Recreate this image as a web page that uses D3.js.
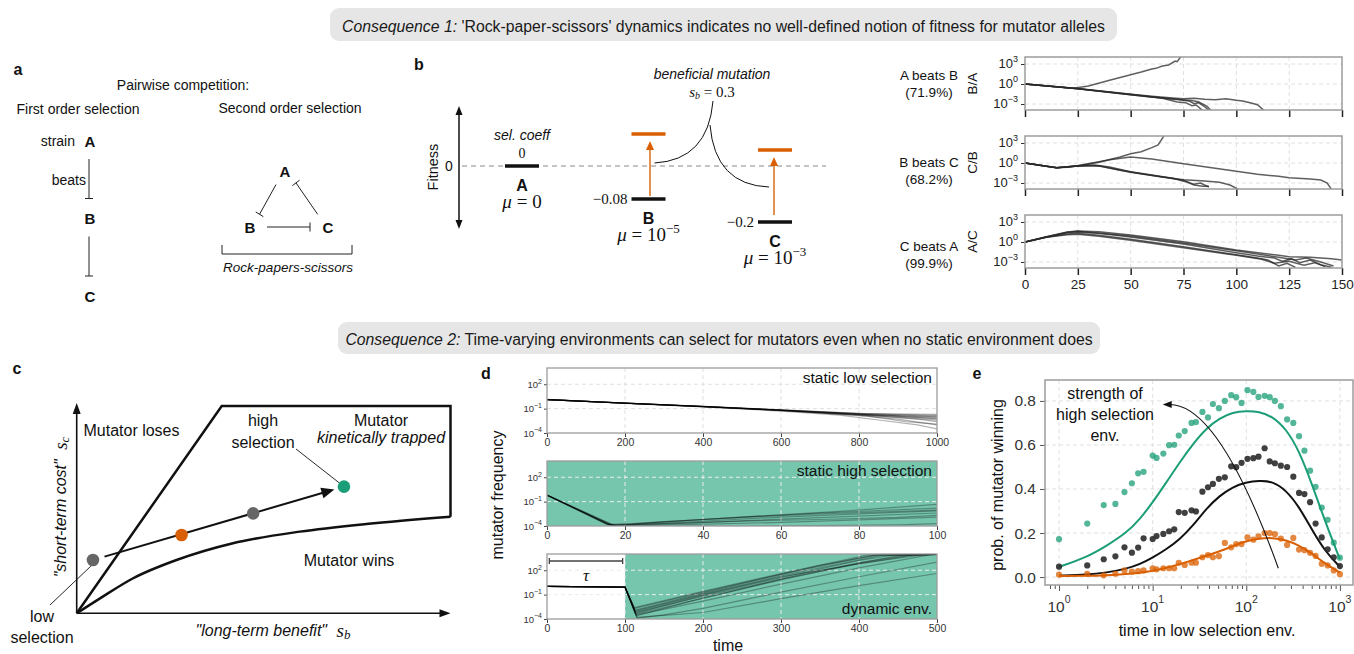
<!DOCTYPE html>
<html>
<head>
<meta charset="utf-8">
<script src="https://cdn.jsdelivr.net/npm/d3@7"></script>
<style>
  body { margin: 0; background: #fff; }
  svg { display: block; }
</style>
</head>
<body>
<svg></svg>
<script>
const width = 1354;
const height = 654;
const sans = '"Liberation Sans", Arial, sans-serif';
const serif = '"Liberation Serif", "DejaVu Serif", serif';
const teal = '#1b9e77';
const orange = '#d95f02';
const frameGrey = '#9c9c9c';
const gridGrey = '#e0e0e0';

// ---------------- data ----------------
const header1 = ['Consequence 1:', " 'Rock-paper-scissors' dynamics indicates no well-defined notion of fitness for mutator alleles"];
const header2 = ['Consequence 2:', ' Time-varying environments can select for mutators even when no static environment does'];

// panel a
const chain = ['A', 'B', 'C'];
const rpsEdges = [['A', 'B'], ['B', 'C'], ['C', 'A']];

// panel b
const strains = ['A', 'B', 'C'];
const selCoeff = [0, -0.08, -0.2];
const mutRateExp = [null, -5, -3];
const sBenefit = 0.3;

// panel b, right: pairwise competitions (generation, log10 ratio)
const duelNames = ['A beats B', 'B beats C', 'C beats A'];
const duelShare = ['(71.9%)', '(68.2%)', '(99.9%)'];
const duelRatio = ['B/A', 'C/B', 'A/C'];
const ratioTicks = [1e3, 1, 1e-3];
const genTicks = [0, 25, 50, 75, 100, 125, 150];
const runsBA = [
  [[0,0],[25,-0.7],[50,-1.6],[60,-1.95],[70,-2.2],[75,-2.45],[78,-2.6],[80,-2.95],[82,-2.8],[85,-3.4],[87,-3.95]],
  [[0,0],[25,-0.72],[50,-1.62],[65,-2.15],[72,-2.7],[76,-2.8],[79,-3.25],[81,-3.15],[84,-3.95]],
  [[0,0],[25,-0.68],[50,-1.55],[62,-2.0],[70,-2.3],[78,-2.45],[82,-2.65],[86,-3.3],[88,-3.95]],
  [[0,0],[23,-0.65],[30,-0.3],[40,0.55],[50,1.4],[55,1.8],[60,2.25],[62,2.35],[65,2.7],[68,2.85],[71,3.45],[72,3.35],[74,4.2]],
  [[0,0],[25,-0.7],[50,-1.55],[60,-1.85],[70,-2.1],[75,-2.2],[80,-2.15],[85,-2.3],[90,-2.35],[95,-2.2],[100,-2.45],[103,-2.55],[107,-2.85],[110,-3.1],[113,-3.95]]
];
const runsCB = [
  [[0,0],[8,-0.4],[15,-0.7],[20,-0.65],[25,-0.45],[30,-0.35],[35,-0.45],[45,-1.1],[55,-1.6],[65,-2.1],[75,-2.6],[80,-3.2],[83,-3.0],[87,-3.6]],
  [[0,0],[15,-0.7],[25,-0.45],[33,-0.3],[40,-0.6],[50,-1.3],[60,-1.8],[70,-2.3],[76,-2.8],[80,-3.3],[84,-3.5],[87,-3.5]],
  [[0,0],[15,-0.7],[25,-0.45],[35,-0.4],[50,-1.4],[65,-2.1],[75,-2.5],[85,-2.7],[92,-2.9],[97,-3.3],[101,-3.95]],
  [[0,0],[15,-0.7],[25,-0.4],[35,0.1],[45,0.9],[50,1.4],[55,1.7],[60,2.3],[63,2.7],[66,4.2]],
  [[0,0],[15,-0.7],[25,-0.4],[40,0.5],[50,0.9],[60,0.6],[75,-0.1],[90,-0.8],[100,-1.25],[110,-1.7],[120,-2.0],[125,-2.2],[135,-2.4],[140,-2.55],[143,-3.0],[145,-3.95]]
];
const runsAC = [
  [[0,0],[10,0.8],[20,1.5],[25,1.65],[35,1.55],[50,1.05],[75,0.05],[100,-1.2],[120,-2.0],[125,-2.2],[135,-2.3],[145,-2.5],[150,-2.7]],
  [[0,0],[10,0.75],[20,1.4],[25,1.5],[35,1.3],[50,0.75],[75,-0.3],[100,-1.6],[110,-2.1],[118,-2.4],[122,-2.9],[126,-2.5],[130,-3.1],[135,-2.7],[140,-3.4],[145,-3.8]],
  [[0,0],[10,0.7],[20,1.2],[25,1.3],[35,1.0],[50,0.4],[75,-0.7],[100,-1.9],[110,-2.4],[115,-2.7],[120,-3.6],[124,-3.2],[128,-3.8]],
  [[0,0],[10,0.7],[20,1.1],[25,1.15],[35,0.85],[50,0.25],[75,-0.85],[100,-2.0],[112,-2.6],[118,-3.2],[125,-2.9],[132,-3.5],[137,-3.1],[142,-3.7]],
  [[0,0],[20,1.45],[25,1.6],[50,0.9],[75,-0.15],[100,-1.3],[120,-2.3],[128,-2.7],[133,-2.4],[140,-3.0],[146,-3.6]]
];

// panel c (schematic, units of the axes)
const boundaryLow = [[0,0],[0.0625,0.072],[0.151,0.169],[0.267,0.257],[0.418,0.338],[0.597,0.394],[0.775,0.431],[1,0.466]];
const boundaryHigh = [[0,0],[0.388,1],[1,1],[1,0.466]];
const envKind = ['low', 'weak', 'medium', 'high'];
const envSb = [0.0435, 0.2805, 0.472, 0.715];
const envSc = [0.257, 0.378, 0.482, 0.611];

// panel d (time, log10 mutator frequency)
const freqTicks = [1e2, 1e-1, 1e-4];
const tau = 100;
const runsLow = [
  [[0,0.12],[200,-0.33],[400,-0.74],[600,-1.18],[700,-1.42],[800,-1.66],[900,-1.88],[1000,-2.08]],
  [[0,0.12],[200,-0.32],[400,-0.73],[600,-1.15],[800,-1.58],[900,-1.77],[1000,-1.93]],
  [[0,0.13],[200,-0.34],[400,-0.76],[600,-1.24],[800,-1.78],[900,-2.08],[1000,-2.42]],
  [[0,0.12],[200,-0.33],[400,-0.75],[600,-1.2],[800,-1.74],[950,-2.3],[1000,-2.6]],
  [[0,0.12],[200,-0.34],[400,-0.76],[600,-1.22],[800,-1.85],[900,-2.3],[1000,-3.0]],
  [[0,0.12],[200,-0.32],[400,-0.72],[600,-1.16],[800,-1.6],[1000,-1.72]],
  [[0,0.13],[200,-0.35],[400,-0.78],[600,-1.3],[750,-1.8],[850,-2.4],[950,-3.0],[1000,-3.5]],
  [[0,0.12],[200,-0.33],[400,-0.74],[600,-1.2],[800,-1.7],[1000,-2.2]],
  [[0,0.12],[200,-0.34],[400,-0.75],[600,-1.22],[820,-1.9],[920,-2.6],[1000,-2.9]],
  [[0,0.12],[200,-0.32],[400,-0.73],[600,-1.17],[800,-1.62],[1000,-1.84]],
  [[0,0.12],[200,-0.33],[400,-0.74],[600,-1.19],[800,-1.68],[900,-1.95],[1000,-2.25]],
  [[0,0.12],[200,-0.33],[400,-0.75],[600,-1.21],[800,-1.72],[1000,-2.0]]
];
const runsHigh = [
  [[0,-0.2],[15,-3.7],[18,-3.95],[30,-3.5],[50,-2.9],[70,-2.4],[100,-1.8]],
  [[0,-0.2],[16,-3.85],[20,-3.9],[40,-3.4],[60,-2.9],[80,-2.5],[100,-2.15]],
  [[0,-0.21],[17,-4.0],[25,-3.85],[45,-3.45],[65,-3.05],[100,-2.4]],
  [[0,-0.19],[15.5,-3.8],[22,-3.75],[40,-3.2],[55,-2.75],[75,-2.2],[100,-1.35]],
  [[0,-0.2],[17.5,-4.05],[30,-3.9],[60,-3.55],[80,-3.25],[100,-2.9]],
  [[0,-0.21],[16.5,-3.9],[35,-3.65],[50,-3.4],[70,-3.2],[90,-2.95],[100,-2.7]],
  [[0,-0.2],[18,-4.1],[40,-4.05],[70,-3.95],[90,-3.85],[100,-3.7]],
  [[0,-0.2],[16,-3.9],[30,-3.45],[50,-2.95],[70,-2.5],[100,-2.05]]
];
const runsDyn = [
  [[0,0.02],[100,-0.08],[112,-2.6],[200,-0.6],[300,1.6],[410,3.85],[500,3.95]],
  [[0,0.02],[100,-0.08],[113,-3.0],[200,-0.9],[300,1.3],[430,3.85],[500,3.95]],
  [[0,0.02],[100,-0.08],[114,-3.3],[200,-1.1],[300,1.1],[400,3.2],[445,3.9],[500,3.95]],
  [[0,0.02],[100,-0.08],[113,-2.9],[200,-0.8],[300,1.5],[420,3.9],[500,3.95]],
  [[0,0.02],[100,-0.08],[115,-3.6],[200,-1.4],[300,0.8],[400,2.9],[465,3.9],[500,3.95]],
  [[0,0.02],[100,-0.08],[112,-2.7],[200,-0.7],[350,2.6],[425,3.9],[500,3.95]],
  [[0,0.02],[100,-0.08],[114,-3.4],[220,-1.0],[330,1.6],[455,3.9],[500,3.95]],
  [[0,0.02],[100,-0.08],[113,-3.1],[200,-1.0],[300,1.2],[470,3.9],[500,3.95]],
  [[0,0.02],[100,-0.08],[116,-3.9],[150,-3.5],[200,-2.7],[300,-0.7],[400,1.2],[500,3.0]],
  [[0,0.02],[100,-0.08],[115,-3.8],[200,-3.2],[300,-1.5],[400,0.1],[500,1.6]],
  [[0,0.02],[100,-0.08],[114,-3.5],[200,-1.8],[300,0.3],[400,2.3],[490,3.9],[500,3.95]],
  [[0,0.02],[100,-0.08],[113,-3.2],[200,-1.2],[300,0.9],[400,2.8],[480,3.9],[500,3.95]]
];

// panel e
const tLow = [1,2,3,4,5,6,7,8,10,11,13,15,17,19,22,26,29,34,39,44,51,59,69,78,89,103,119,135,157,178,202,234,273,318,366,418,480,550,640,740,860,1000];
const winHigh = [.172,.243,.327,.332,.386,.426,.471,.478,.552,.541,.561,.599,.601,.643,.663,.700,.704,.750,.725,.786,.767,.800,.826,.817,.791,.849,.841,.818,.823,.817,.800,.776,.716,.700,.640,.574,.483,.410,.316,.260,.156,.088];
const winMid = [.047,.053,.081,.094,.135,.111,.134,.176,.173,.186,.196,.208,.217,.295,.292,.303,.298,.388,.408,.423,.446,.453,.503,.499,.519,.537,.540,.547,.585,.525,.517,.506,.500,.456,.382,.377,.340,.243,.180,.126,.090,.050];
const winLow = [.011,.015,.008,.015,.030,.025,.027,.030,.040,.035,.040,.040,.040,.065,.055,.065,.065,.090,.100,.090,.095,.155,.135,.150,.150,.180,.170,.185,.200,.200,.195,.175,.146,.178,.125,.122,.110,.096,.060,.053,.030,.013];
const tTheory = [1,2,3.2,5.3,7.3,10,14,19.5,27,37,52,72,99,137,190,265,366,510,700,1000];
const theoryHigh = [.046,.091,.141,.202,.263,.339,.43,.522,.605,.674,.722,.748,.755,.752,.73,.674,.575,.415,.248,.081];
const theoryMid = [.007,.010,.02,.038,.058,.088,.126,.172,.233,.309,.37,.41,.43,.438,.435,.395,.32,.21,.115,.047];
const theoryLow = [.005,.005,.008,.014,.02,.027,.043,.058,.078,.096,.117,.141,.163,.175,.179,.168,.145,.105,.06,.02];
const probTicks = [0, 0.2, 0.4, 0.6, 0.8];

// ---------------- helpers ----------------
const svg = d3.select('svg')
  .attr('width', width)
  .attr('height', height)
  .style('font-family', sans);

function addText(g, x, y, s, size, o = {}) {
  return g.append('text')
    .attr('x', x).attr('y', y)
    .attr('font-size', size)
    .attr('font-family', o.family || sans)
    .attr('font-style', o.italic ? 'italic' : null)
    .attr('font-weight', o.bold ? 'bold' : null)
    .attr('text-anchor', o.anchor || 'middle')
    .attr('dominant-baseline', o.baseline || 'central')
    .attr('fill', o.fill || '#111')
    .attr('transform', o.rotate ? `rotate(${o.rotate},${x},${y})` : null)
    .text(s);
}

function supTen(sel, exp, base, sup) {
  sel.text(null);
  sel.append('tspan').attr('font-size', base).text('10');
  sel.append('tspan').attr('font-size', sup).attr('dy', -base * 0.45)
    .text(exp < 0 ? '\u2212' + Math.abs(exp) : String(exp));
}

function arrowHead(g, tipX, tipY, angle, len, wid, color) {
  // angle: direction the arrow points (radians)
  const bx = tipX - len * Math.cos(angle), by = tipY - len * Math.sin(angle);
  const px = -Math.sin(angle) * wid / 2, py = Math.cos(angle) * wid / 2;
  g.append('path')
    .attr('d', `M${tipX},${tipY}L${bx + px},${by + py}L${bx - px},${by - py}Z`)
    .attr('fill', color);
}

let clipId = 0;
function clipRect(x, y, w, h) {
  const id = 'clip' + (clipId++);
  svg.append('clipPath').attr('id', id)
    .append('rect').attr('x', x).attr('y', y).attr('width', w).attr('height', h);
  return `url(#${id})`;
}

// ---------------- headers ----------------
[[header1, 330, 1117, 8, 41], [header2, 338, 1100, 322, 354]].forEach(([h, x0, x1, y0, y1]) => {
  svg.append('rect')
    .attr('x', x0).attr('y', y0)
    .attr('width', x1 - x0).attr('height', y1 - y0)
    .attr('rx', 9).attr('fill', '#e6e6e6');
  const t = addText(svg, (x0 + x1) / 2, (y0 + y1) / 2 + 1, null, 15.8, {fill: '#1a1a1a'});
  t.append('tspan').attr('font-style', 'italic').text(h[0]);
  t.append('tspan').text(h[1]);
});

// panel letters
[['a', 18, 69], ['b', 419, 64], ['c', 17, 368], ['d', 486, 373], ['e', 977, 373]].forEach(([l, x, y]) => {
  addText(svg, x, y, l, 16, {bold: true});
});

// ---------------- panel a ----------------
const ga = svg.append('g');
addText(ga, 183, 85, 'Pairwise competition:', 14);
addText(ga, 78, 109, 'First order selection', 14);
addText(ga, 290, 108, 'Second order selection', 14);

const yChain = d3.scalePoint().domain(chain).range([141, 296]);
const xChain = 90;
chain.forEach(s => addText(ga, xChain, yChain(s), s, 15, {bold: true}));
addText(ga, 75, yChain('A'), 'strain', 14, {anchor: 'end'});
addText(ga, 86, (yChain('A') + yChain('B')) / 2, 'beats', 14, {anchor: 'end'});
d3.pairs(chain).forEach(([s, t]) => {
  const y0 = yChain(s) + 18, y1 = yChain(t) - 20;
  ga.append('path')
    .attr('d', `M${xChain - 1},${y0}V${y1}M${xChain - 5},${y1}H${xChain + 3}`)
    .attr('stroke', '#222').attr('stroke-width', 1).attr('fill', 'none');
});

const triX = d3.scalePoint().domain(['B', 'A', 'C']).range([250, 328]);
const triY = s => (s === 'A' ? 171 : 227);
['A', 'B', 'C'].forEach(s => addText(ga, triX(s) - (s === 'A' ? 4 : 0), triY(s), s, 15, {bold: true}));
rpsEdges.forEach(([s, t]) => {
  const sx = triX(s) - (s === 'A' ? 4 : 0), sy = triY(s);
  const tx = triX(t) - (t === 'A' ? 4 : 0), ty = triY(t);
  const len = Math.hypot(tx - sx, ty - sy);
  const ux = (tx - sx) / len, uy = (ty - sy) / len;
  const a0 = [sx + ux * 17, sy + uy * 16], a1 = [tx - ux * 18, ty - uy * 15];
  ga.append('path')
    .attr('d', `M${a0}L${a1}M${a1[0] - uy * 4.5},${a1[1] + ux * 4.5}L${a1[0] + uy * 4.5},${a1[1] - ux * 4.5}`)
    .attr('stroke', '#222').attr('stroke-width', 1).attr('fill', 'none');
});
ga.append('path').attr('d', 'M222,245V254H352V245')
  .attr('stroke', '#222').attr('stroke-width', 1).attr('fill', 'none');
addText(ga, 288, 267, 'Rock-papers-scissors', 13.5, {italic: true});

// ---------------- panel b ----------------
const gb = svg.append('g');
const xStrain = d3.scalePoint().domain(strains).range([522, 775]);
// schematic fitness axis (not to scale)
const yFit = d3.scaleLinear().domain([-0.2, -0.08, 0, 0.1, 0.22]).range([222, 199, 166, 150, 134]);

gb.append('line').attr('x1', 459).attr('x2', 459).attr('y1', 112).attr('y2', 223)
  .attr('stroke', '#111').attr('stroke-width', 1.5);
arrowHead(gb, 459, 106, -Math.PI / 2, 9, 7, '#111');
arrowHead(gb, 459, 229, Math.PI / 2, 9, 7, '#111');
addText(gb, 433, 167, 'Fitness', 14.5, {rotate: -90});
addText(gb, 449, yFit(0), '0', 14);
gb.append('line').attr('x1', 462).attr('x2', 826).attr('y1', yFit(0)).attr('y2', yFit(0))
  .attr('stroke', '#888').attr('stroke-width', 1).attr('stroke-dasharray', '5,4');

strains.forEach((s, i) => {
  const cx = xStrain(s), y = yFit(selCoeff[i]);
  if (i > 0) {
    const yb = yFit(selCoeff[i] + sBenefit);
    const ax = cx + (i === 1 ? 1.5 : -1);
    gb.append('line').attr('x1', ax).attr('x2', ax).attr('y1', y - (i === 1 ? 3 : 7)).attr('y2', yb + 15)
      .attr('stroke', orange).attr('stroke-width', 1.6).attr('opacity', 0.85);
    arrowHead(gb, ax, yb + 7, -Math.PI / 2, 9, 8, orange);
    gb.append('line').attr('x1', cx - 17).attr('x2', cx + 17).attr('y1', yb).attr('y2', yb)
      .attr('stroke', orange).attr('stroke-width', 3.5);
    addText(gb, cx - 21, y, '\u2212' + Math.abs(selCoeff[i]), 15, {anchor: 'end', family: serif});
  } else {
    addText(gb, cx, y - 13, String(selCoeff[i]), 14, {family: serif});
    addText(gb, cx, y - 31, 'sel. coeff', 14, {italic: true});
  }
  gb.append('line').attr('x1', cx - 17).attr('x2', cx + 17).attr('y1', y).attr('y2', y)
    .attr('stroke', '#111').attr('stroke-width', 3.5);
  addText(gb, cx, y + 19, s, 16, {bold: true});
  const mu = addText(gb, cx, y + 42, null, 19, {family: serif, baseline: 'alphabetic'});
  mu.append('tspan').attr('font-style', 'italic').text('\u03bc');
  mu.append('tspan').text(' = ');
  if (mutRateExp[i] === null) {
    mu.append('tspan').text('0');
  } else {
    mu.append('tspan').text('10');
    mu.append('tspan').attr('font-size', 13).attr('dy', -8).text('\u2212' + Math.abs(mutRateExp[i]));
  }
});
addText(gb, 712, 74, 'beneficial mutation', 14, {italic: true});
const sbl = addText(gb, 712, 92, null, 15, {family: serif});
sbl.append('tspan').attr('font-style', 'italic').text('s');
sbl.append('tspan').attr('font-size', 10).attr('dy', 3).attr('font-style', 'italic').text('b');
sbl.append('tspan').attr('dy', -3).text(' = ' + sBenefit);
gb.append('path')
  .attr('d', `M713,101Q708,160 ${xStrain('B') + 6},${yFit(0) - 3}`)
  .attr('fill', 'none').attr('stroke', '#111').attr('stroke-width', 1);
gb.append('path')
  .attr('d', `M710,125Q715,185 ${xStrain('C') - 6},${yFit(0) + 21}`)
  .attr('fill', 'none').attr('stroke', '#111').attr('stroke-width', 1);

// ---------------- panel b right: trajectories ----------------
const gr = svg.append('g');
const xGen = d3.scaleLinear().domain([0, 150]).range([1025, 1342]);
const duelTops = [57, 136, 215];
const duelH = 53;
const duelLabelY = [84, 171, 255];
const duelRuns = [runsBA, runsCB, runsAC];
duelTops.forEach((top, k) => {
  const yR = d3.scaleLog().domain([10 ** -3.9, 10 ** 4.05]).range([top + duelH, top]);
  const g = gr.append('g');
  // grid
  g.selectAll('.vg').data(genTicks.slice(1, -1)).join('line')
    .attr('x1', d => xGen(d)).attr('x2', d => xGen(d)).attr('y1', top).attr('y2', top + duelH)
    .attr('stroke', gridGrey).attr('stroke-dasharray', '4,3');
  g.selectAll('.hg').data(ratioTicks).join('line')
    .attr('x1', xGen(0)).attr('x2', xGen(150)).attr('y1', d => yR(d)).attr('y2', d => yR(d))
    .attr('stroke', gridGrey).attr('stroke-dasharray', '4,3');
  const line = d3.line().x(d => xGen(d[0])).y(d => yR(10 ** d[1]));
  g.append('g').attr('clip-path', clipRect(xGen(0), top, xGen(150) - xGen(0), duelH))
    .selectAll('path').data(duelRuns[k]).join('path')
    .attr('d', line).attr('fill', 'none')
    .attr('stroke', '#2a2a2a').attr('stroke-opacity', 0.75).attr('stroke-width', 1.5);
  // axes
  const ay = g.append('g').attr('transform', `translate(${xGen(0)},0)`)
    .call(d3.axisLeft(yR).tickValues(ratioTicks).tickSize(4).tickPadding(3));
  ay.select('.domain').remove();
  ay.selectAll('line').attr('stroke', '#333');
  ay.selectAll('text').attr('font-family', sans).attr('fill', '#222')
    .each(function (d) { supTen(d3.select(this), Math.round(Math.log10(d)), 13, 9); });
  const ax = g.append('g').attr('transform', `translate(0,${top + duelH})`)
    .call(d3.axisBottom(xGen).tickValues(genTicks).tickSize(7).tickPadding(4));
  ax.select('.domain').remove();
  ax.selectAll('line').attr('stroke', '#222').attr('stroke-width', 1.5);
  ax.selectAll('text').attr('font-size', 13.5).attr('font-family', sans).attr('fill', '#222');
  if (k < 2) ax.selectAll('text').remove();
  g.append('rect').attr('x', xGen(0)).attr('y', top).attr('width', xGen(150) - xGen(0)).attr('height', duelH)
    .attr('fill', 'none').attr('stroke', frameGrey).attr('stroke-width', 1.5);
  addText(g, 972, top + duelH / 2, duelRatio[k], 13.5, {rotate: -90});
  addText(g, 929, duelLabelY[k] - 8.5, duelNames[k], 13.5);
  addText(g, 929, duelLabelY[k] + 8.5, duelShare[k], 13.5);
});

// ---------------- panel c ----------------
const gc = svg.append('g');
const xC = d3.scaleLinear().domain([0, 1]).range([76.7, 450.5]);
const yC = d3.scaleLinear().domain([0, 1]).range([613.3, 406]);
const envColor = d3.scaleOrdinal().domain(envKind).range(['#666', orange, '#666', teal]);

gc.append('path').attr('d', `M${xC(0)},${yC(0)}H${xC(1) - 8}M${xC(0)},${yC(0)}V${yC(1.015) + 8}`)
  .attr('stroke', '#111').attr('stroke-width', 1.6);
arrowHead(gc, xC(1), yC(0), 0, 11, 8, '#111');
arrowHead(gc, xC(0), yC(1.015), -Math.PI / 2, 11, 8, '#111');
const cLine = d3.line().x(d => xC(d[0])).y(d => yC(d[1]));
gc.append('path').attr('d', cLine(boundaryHigh))
  .attr('fill', 'none').attr('stroke', '#111').attr('stroke-width', 2.5).attr('stroke-linejoin', 'miter');
gc.append('path').attr('d', cLine.curve(d3.curveMonotoneX)(boundaryLow))
  .attr('fill', 'none').attr('stroke', '#111').attr('stroke-width', 2.5);

// trajectory arrow through the environments
{
  const x0 = xC(envSb[0]), y0 = yC(envSc[0]);
  const x1 = xC(envSb[3]), y1 = yC(envSc[3]);
  const ang = Math.atan2(y1 - y0, x1 - x0);
  const sx = x0 + 12 * Math.cos(ang), sy = y0 + 12 * Math.sin(ang);
  const tx = x1 - 10 * Math.cos(ang), ty = y1 - 10 * Math.sin(ang);
  gc.append('line').attr('x1', sx).attr('y1', sy)
    .attr('x2', tx - 10 * Math.cos(ang)).attr('y2', ty - 10 * Math.sin(ang))
    .attr('stroke', '#111').attr('stroke-width', 2);
  arrowHead(gc, tx, ty, ang, 13, 11, '#111');
}
gc.selectAll('circle').data(envKind).join('circle')
  .attr('cx', (d, i) => xC(envSb[i])).attr('cy', (d, i) => yC(envSc[i]))
  .attr('r', 6.3).attr('fill', d => envColor(d));

addText(gc, 131.5, 430, 'Mutator loses', 16);
addText(gc, 263, 420, 'high', 16);
addText(gc, 263, 442, 'selection', 16);
addText(gc, 381, 420, 'Mutator', 16);
addText(gc, 381, 437.5, 'kinetically trapped', 16, {italic: true});
addText(gc, 349, 560, 'Mutator wins', 16);
addText(gc, 42, 616, 'low', 16);
addText(gc, 42, 637, 'selection', 16);
gc.append('line').attr('x1', 50).attr('y1', 605).attr('x2', xC(envSb[0]) - 2).attr('y2', yC(envSc[0]) + 6)
  .attr('stroke', '#111').attr('stroke-width', 0.9);
gc.append('line').attr('x1', 296).attr('y1', 449).attr('x2', xC(envSb[3]) - 5).attr('y2', yC(envSc[3]) - 4)
  .attr('stroke', '#111').attr('stroke-width', 0.9);
{
  const t = addText(gc, 60, 507, null, 16, {rotate: -90});
  t.append('tspan').attr('font-style', 'italic').text('"short-term cost"');
  t.append('tspan').attr('font-family', serif).attr('font-style', 'italic').attr('font-size', 19).text('\u2002s');
  t.append('tspan').attr('font-family', serif).attr('font-style', 'italic').attr('font-size', 13).attr('dy', 4).text('c');
  const u = addText(gc, 273, 630, null, 16);
  u.append('tspan').attr('font-style', 'italic').text('"long-term benefit"');
  u.append('tspan').attr('font-family', serif).attr('font-style', 'italic').attr('font-size', 19).text('\u2002s');
  u.append('tspan').attr('font-family', serif).attr('font-style', 'italic').attr('font-size', 13).attr('dy', 4).text('b');
}

// ---------------- panel d ----------------
const gd = svg.append('g');
const dLeft = 547, dRight = 937, dH = 65;
const dPanels = [
  {top: 368, tmax: 1000, step: 200, runs: runsLow, fillFrom: null, label: 'static low selection', labelY: 377},
  {top: 461, tmax: 100, step: 20, runs: runsHigh, fillFrom: 0, label: 'static high selection', labelY: 470},
  {top: 554, tmax: 500, step: 100, runs: runsDyn, fillFrom: tau, label: 'dynamic env.', labelY: 608}
];
dPanels.forEach(p => {
  const x = d3.scaleLinear().domain([0, p.tmax]).range([dLeft, dRight]);
  const y = d3.scaleLog().domain([1e-4, 1e4]).range([p.top + dH, p.top]);
  const g = gd.append('g');
  if (p.fillFrom !== null) {
    g.append('rect').attr('x', x(p.fillFrom)).attr('y', p.top)
      .attr('width', x(p.tmax) - x(p.fillFrom)).attr('height', dH)
      .attr('fill', teal).attr('fill-opacity', 0.6);
  }
  const gridCol = p.fillFrom !== null ? '#ececec' : gridGrey;
  g.selectAll('.vg').data(d3.range(p.step, p.tmax, p.step)).join('line')
    .attr('x1', d => x(d)).attr('x2', d => x(d)).attr('y1', p.top).attr('y2', p.top + dH)
    .attr('stroke', gridCol).attr('stroke-dasharray', '4,3');
  g.selectAll('.hg').data(freqTicks.slice(0, 2)).join('line')
    .attr('x1', dLeft).attr('x2', dRight).attr('y1', d => y(d)).attr('y2', d => y(d))
    .attr('stroke', gridCol).attr('stroke-dasharray', '4,3');
  const line = d3.line().x(d => x(d[0])).y(d => y(10 ** d[1]));
  g.append('g').attr('clip-path', clipRect(dLeft, p.top, dRight - dLeft, dH))
    .selectAll('path').data(p.runs).join('path')
    .attr('d', line).attr('fill', 'none')
    .attr('stroke', '#000').attr('stroke-opacity', 0.3).attr('stroke-width', 1.2);
  const ay = g.append('g').attr('transform', `translate(${dLeft},0)`)
    .call(d3.axisLeft(y).tickValues(freqTicks).tickSize(3).tickPadding(2));
  ay.select('.domain').remove();
  ay.selectAll('line').attr('stroke', '#444');
  ay.selectAll('text').attr('font-family', sans).attr('fill', '#333')
    .each(function (d) { supTen(d3.select(this), Math.round(Math.log10(d)), 9.5, 7); });
  const ax = g.append('g').attr('transform', `translate(0,${p.top + dH})`)
    .call(d3.axisBottom(x).tickValues(d3.range(0, p.tmax + 1, p.step)).tickFormat(d3.format('d'))
      .tickSize(4).tickPadding(2));
  ax.select('.domain').remove();
  ax.selectAll('line').attr('stroke', '#444');
  ax.selectAll('text').attr('font-size', 10.5).attr('font-family', sans).attr('fill', '#333');
  g.append('rect').attr('x', dLeft).attr('y', p.top).attr('width', dRight - dLeft).attr('height', dH)
    .attr('fill', 'none').attr('stroke', frameGrey).attr('stroke-width', 1.3);
  addText(g, 932, p.labelY, p.label, 15.5, {anchor: 'end'});
  if (p.fillFrom === tau) {
    const yb = p.top + 7;
    g.append('path')
      .attr('d', `M${x(3)},${yb}H${x(tau - 3)}M${x(3)},${yb - 3}V${yb + 3}M${x(tau - 3)},${yb - 3}V${yb + 3}`)
      .attr('stroke', '#444').attr('stroke-width', 1.3).attr('fill', 'none');
    addText(g, x(tau / 2), yb + 14, '\u03c4', 17, {family: serif, italic: true});
  }
});
addText(gd, 497, 495, 'mutator frequency', 16, {rotate: -90});
addText(gd, 728, 645, 'time', 16);

// ---------------- panel e ----------------
const ge = svg.append('g');
const eLeft = 1045, eRight = 1353, eTop = 380, eBottom = 585;
const xE = d3.scaleLog().domain([10 ** -0.15, 10 ** 3.14]).range([eLeft, eRight]);
const yE = d3.scaleLinear().domain([-0.036, 0.895]).range([eBottom, eTop]);
const majors = [1, 10, 100, 1000];
ge.selectAll('.vg').data(majors).join('line')
  .attr('x1', d => xE(d)).attr('x2', d => xE(d)).attr('y1', eTop).attr('y2', eBottom)
  .attr('stroke', gridGrey).attr('stroke-dasharray', '4,3');
ge.selectAll('.hg').data(probTicks).join('line')
  .attr('x1', eLeft).attr('x2', eRight).attr('y1', d => yE(d)).attr('y2', d => yE(d))
  .attr('stroke', gridGrey).attr('stroke-dasharray', '4,3');

const eDots = [[winHigh, teal, 0.75], [winMid, '#2b2b2b', 0.9], [winLow, orange, 0.75]];
const eCurves = [[theoryHigh, teal], [theoryMid, '#111'], [theoryLow, orange]];
const eLine = d3.line().curve(d3.curveBasis).x(d => xE(d[0])).y(d => yE(d[1]));
eCurves.forEach(([vals, col]) => {
  ge.append('path').attr('d', eLine(tTheory.map((t, i) => [t, vals[i]])))
    .attr('fill', 'none').attr('stroke', col).attr('stroke-width', 2);
});
eDots.forEach(([vals, col, op]) => {
  ge.append('g').selectAll('circle').data(tLow).join('circle')
    .attr('cx', d => xE(d)).attr('cy', (d, i) => yE(vals[i]))
    .attr('r', 3.1).attr('fill', col).attr('fill-opacity', op);
});
// strength arrow
{
  const p0 = [xE(220), yE(0.04)], c = [xE(51.6), yE(0.784)], p1 = [xE(12.8), yE(0.784)];
  ge.append('path').attr('d', `M${p0}Q${c} ${p1[0] + 7},${p1[1]}`)
    .attr('fill', 'none').attr('stroke', '#111').attr('stroke-width', 1.1);
  arrowHead(ge, p1[0], p1[1], Math.PI, 9, 7, '#111');
}
addText(ge, 1105, 393, 'strength of', 16);
addText(ge, 1105, 414, 'high selection', 16);
addText(ge, 1105, 435, 'env.', 16);

const eax = ge.append('g').attr('transform', `translate(0,${eBottom})`)
  .call(d3.axisBottom(xE).tickValues(xE.ticks()).tickSize(4).tickFormat(''));
eax.select('.domain').remove();
eax.selectAll('line').attr('stroke', '#555').attr('y2', d => (majors.includes(d) ? 6 : 4));
eax.selectAll('text').remove();
eax.selectAll('.lbl').data(majors).join('text')
  .attr('x', d => xE(d)).attr('y', 21).attr('text-anchor', 'middle')
  .attr('dominant-baseline', 'central').attr('fill', '#333').attr('font-family', sans)
  .each(function (d) { supTen(d3.select(this), Math.round(Math.log10(d)), 15.5, 10.5); });
const eay = ge.append('g').attr('transform', `translate(${eLeft},0)`)
  .call(d3.axisLeft(yE).tickValues(probTicks).tickSize(5).tickPadding(4).tickFormat(d3.format('.1f')));
eay.select('.domain').remove();
eay.selectAll('line').attr('stroke', '#555');
eay.selectAll('text').attr('font-size', 15.5).attr('font-family', sans).attr('fill', '#333');
ge.append('rect').attr('x', eLeft).attr('y', eTop).attr('width', eRight - eLeft).attr('height', eBottom - eTop)
  .attr('fill', 'none').attr('stroke', frameGrey).attr('stroke-width', 1.5);
addText(ge, 997, 485, 'prob. of mutator winning', 16, {rotate: -90});
addText(ge, 1207, 630, 'time in low selection env.', 16);
</script>
</body>
</html>
